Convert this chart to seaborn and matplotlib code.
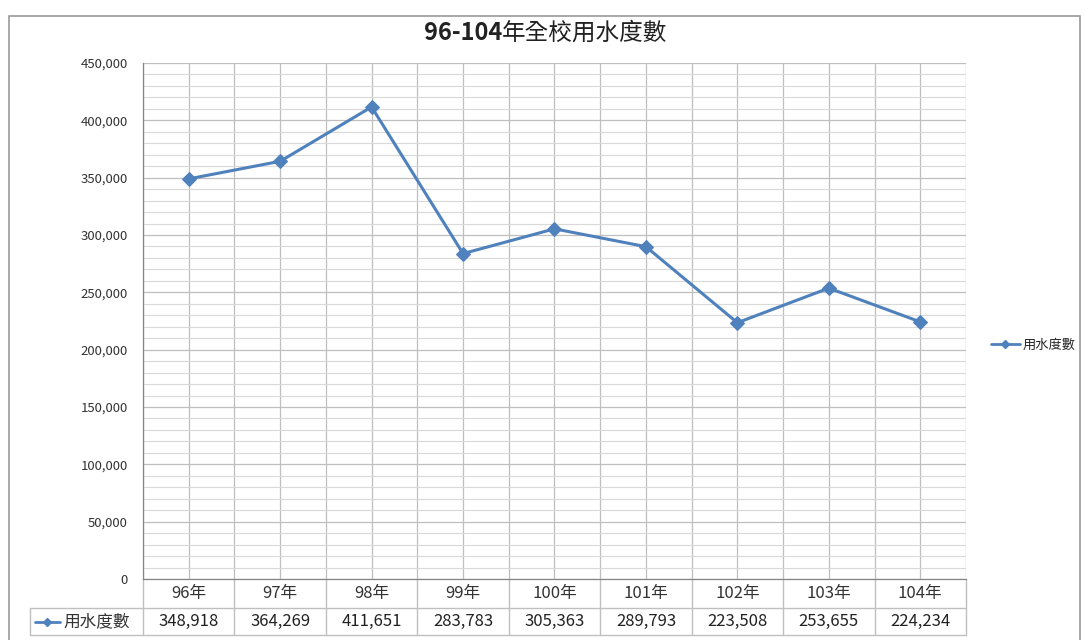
import numpy as np
import pandas as pd
import matplotlib
matplotlib.use("Agg")
import matplotlib.pyplot as plt
import matplotlib.ticker as mticker
from matplotlib.lines import Line2D
from matplotlib.patches import Rectangle
import seaborn as sns

# data
years = ["96年", "97年", "98年", "99年", "100年", "101年", "102年", "103年", "104年"]
usage = [348918, 364269, 411651, 283783, 305363, 289793, 223508, 253655, 224234]
series_name = "用水度數"
title_num = "96-104"
title_rest = "年全校用水度數"

sns.set_theme(style="white")
plt.rcParams["font.family"] = ["Noto Sans CJK TC", "DejaVu Sans"]

blue = "#4F81BD"
major_c = "#BFBFBF"
minor_c = "#D9D9D9"

df = pd.DataFrame({"year": years, "usage": usage})

fig = plt.figure(figsize=(10.85, 6.4), dpi=100)
ax = fig.add_axes([0.1318, 0.0953, 0.7585, 0.8063])

sns.lineplot(data=df, x="year", y="usage", ax=ax, color=blue, linewidth=2.2,
             marker="D", markersize=7, markeredgecolor=blue, sort=False)

n = len(years)
ax.set_xlim(-0.5, n - 0.5)
ax.set_ylim(0, 450000)
ax.yaxis.set_major_locator(mticker.MultipleLocator(50000))
ax.yaxis.set_minor_locator(mticker.MultipleLocator(10000))
ax.yaxis.set_major_formatter(mticker.FuncFormatter(lambda v, p: f"{int(v):,}"))
ax.set_xticks(np.arange(n))
ax.set_xticks(np.arange(n + 1) - 0.5, minor=True)
ax.tick_params(axis="x", which="both", length=0, labelbottom=False)
ax.tick_params(axis="y", which="major", length=5, color="#868686", labelsize=9.5,
               labelcolor="#333333", pad=6)
ax.tick_params(axis="y", which="minor", length=0)

ax.grid(True, which="major", color=major_c, linewidth=0.9)
ax.grid(True, which="minor", axis="y", color=minor_c, linewidth=0.8)
ax.grid(True, which="minor", axis="x", color=major_c, linewidth=0.9)
ax.set_axisbelow(True)
ax.set_xlabel("")
ax.set_ylabel("")
for s in ["top", "right"]:
    ax.spines[s].set_visible(False)
ax.spines["left"].set_color("#868686")
ax.spines["bottom"].set_color("#868686")
ax.spines["left"].set_linewidth(0.9)
ax.spines["bottom"].set_linewidth(0.9)

# data table under the plot
tr = ax.get_xaxis_transform()
row1, row2 = -0.0562, -0.1085
left_x = -0.5 - 0.1373 * n
line_kw = dict(color="#BFBFBF", linewidth=1, transform=tr, clip_on=False)
for xb in np.arange(n + 1) - 0.5:
    ax.plot([xb, xb], [0, row2], **line_kw)
ax.plot([left_x, left_x], [row1, row2], **line_kw)
ax.plot([left_x, n - 0.5], [row1, row1], **line_kw)
ax.plot([left_x, n - 0.5], [row2, row2], **line_kw)
for i, (yr, v) in enumerate(zip(years, usage)):
    ax.text(i, row1 / 2, yr, transform=tr, ha="center", va="center",
            fontsize=12, color="#333333")
    ax.text(i, (row1 + row2) / 2, f"{v:,}", transform=tr, ha="center", va="center",
            fontsize=12, color="#222222")
# row header with legend key
key_x0 = left_x + 0.05
ax.plot([key_x0, key_x0 + 0.28], [(row1 + row2) / 2] * 2, color=blue, linewidth=2,
        transform=tr, clip_on=False)
ax.plot([key_x0 + 0.14], [(row1 + row2) / 2], marker="D", markersize=4.5, color=blue,
        transform=tr, clip_on=False)
ax.text(key_x0 + 0.32, (row1 + row2) / 2, series_name, transform=tr, ha="left",
        va="center", fontsize=12, color="#333333")

# legend on the right
handle = Line2D([], [], color=blue, linewidth=2, marker="D", markersize=4.5)
fig.legend([handle], [series_name], loc="center left", bbox_to_anchor=(0.902, 0.46),
           frameon=False, fontsize=9.5, handlelength=2.2, handletextpad=0.2)

# title: bold numbers, regular CJK
renderer = fig.canvas.get_renderer()
t1 = fig.text(0.5, 0.948, title_num, ha="left", va="center", fontsize=17,
              fontweight="bold", color="#222222")
t2 = fig.text(0.5, 0.948, title_rest, ha="left", va="center", fontsize=17,
              fontweight="medium", color="#222222")
w1 = t1.get_window_extent(renderer).width / fig.bbox.width
w2 = t2.get_window_extent(renderer).width / fig.bbox.width
x0 = 0.503 - (w1 + w2) / 2
t1.set_x(x0)
t2.set_x(x0 + w1)

# chart border
fig.patches.append(Rectangle((0.008, -0.01), 0.987, 0.985, transform=fig.transFigure,
                             fill=False, edgecolor="#9A9A9A", linewidth=1.2))

fig.savefig("out.png", dpi=100)
